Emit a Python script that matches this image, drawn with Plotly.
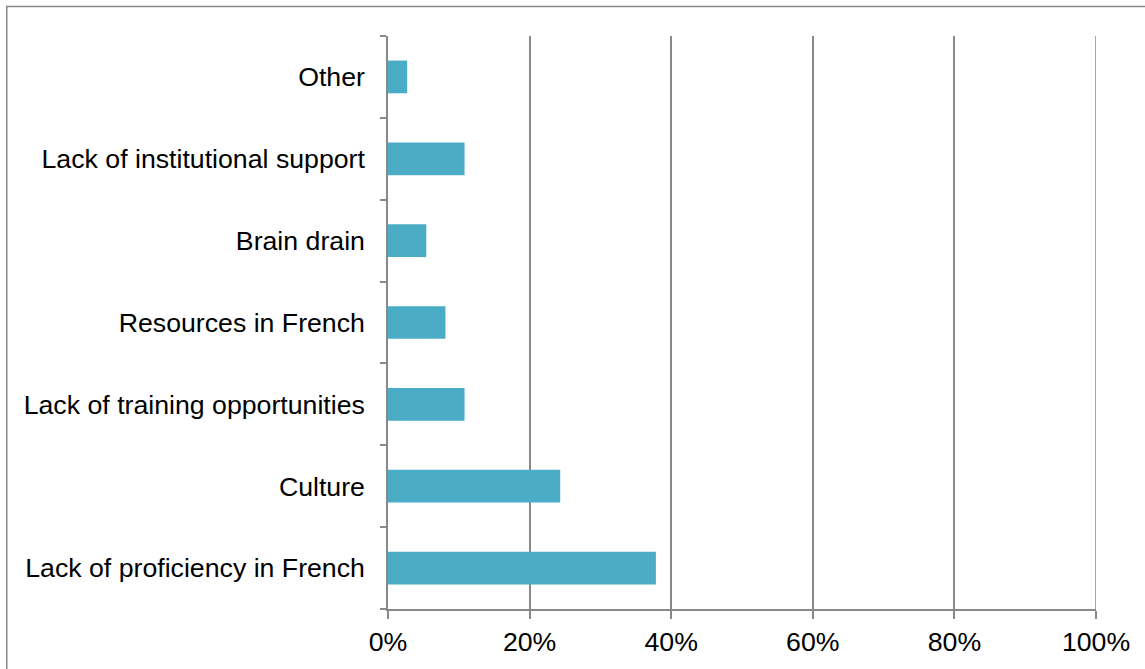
import plotly.graph_objects as go

# Obstacles reported by respondents (share of 37 responses)
categories = [
    "Lack of proficiency in French",
    "Culture",
    "Lack of training opportunities",
    "Resources in French",
    "Brain drain",
    "Lack of institutional support",
    "Other",
]
counts = [14, 9, 4, 3, 2, 4, 1]
total_responses = 37
shares = [c / total_responses for c in counts]

tick_values = [0, 0.2, 0.4, 0.6, 0.8, 1.0]
tick_labels = ["0%", "20%", "40%", "60%", "80%", "100%"]

W, H = 1145, 669
L, R, T, B = 388, 48.5, 36, 58
pw, ph = W - L - R, H - T - B

grey = "#888888"
font = dict(family="Liberation Sans, Arial, sans-serif", size=26.7, color="#000000")

fig = go.Figure(
    go.Bar(
        x=shares,
        y=categories,
        orientation="h",
        marker=dict(color="#4BACC6", line=dict(width=0)),
        hoverinfo="skip",
    )
)

fig.update_layout(
    width=W,
    height=H,
    margin=dict(l=L, r=R, t=T, b=B, pad=0),
    paper_bgcolor="white",
    plot_bgcolor="white",
    bargap=0.6,
    showlegend=False,
    font=font,
    xaxis=dict(
        range=[0, 1],
        tickvals=tick_values,
        ticktext=tick_labels,
        showgrid=True,
        gridcolor=grey,
        gridwidth=1.5,
        showline=True,
        linecolor=grey,
        linewidth=1.5,
        ticks="outside",
        ticklen=8,
        tickcolor=grey,
        tickwidth=1.5,
        zeroline=False,
        fixedrange=True,
        tickfont=font,
    ),
    yaxis=dict(
        categoryorder="array",
        categoryarray=categories,
        showgrid=False,
        showline=True,
        linecolor=grey,
        linewidth=1.5,
        ticks="outside",
        tickson="boundaries",
        ticklen=6,
        tickcolor=grey,
        tickwidth=1.5,
        zeroline=False,
        fixedrange=True,
        tickfont=font,
        ticklabelstandoff=16,
    ),
    shapes=[
        # outer chart frame
        dict(
            type="rect",
            xref="paper",
            yref="paper",
            x0=(6.5 - L) / pw,
            x1=1.5,
            y0=-0.5,
            y1=1 + (T - 6.5) / ph,
            line=dict(color=grey, width=1.5),
            fillcolor="rgba(0,0,0,0)",
            layer="below",
        ),
        # gridline at the top of the value range
        dict(
            type="line",
            xref="x",
            yref="paper",
            x0=tick_values[-1],
            x1=tick_values[-1],
            y0=0,
            y1=1,
            line=dict(color=grey, width=1.5),
            layer="below",
        ),
    ],
)

fig.write_html("out.html", config={"displayModeBar": False})
